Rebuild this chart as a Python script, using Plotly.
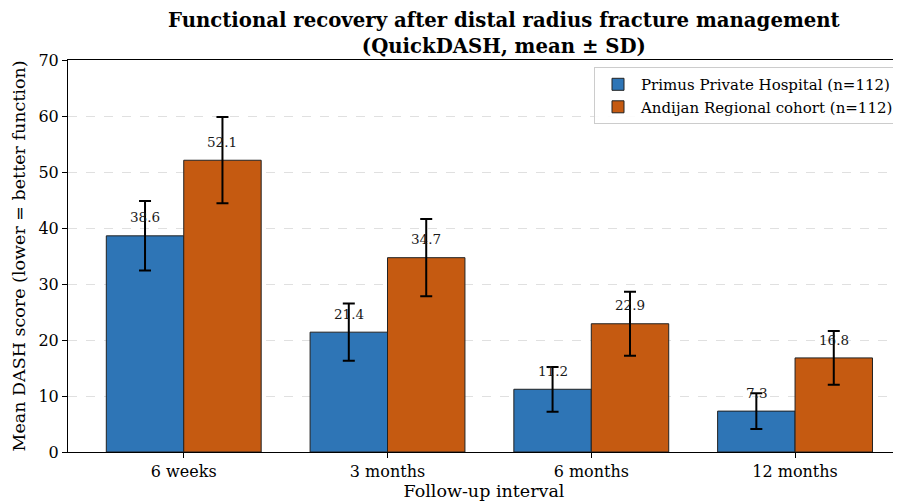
import plotly.graph_objects as go

categories = ["6 weeks", "3 months", "6 months", "12 months"]
primus_mean = [38.6, 21.4, 11.2, 7.3]
primus_sd = [6.2, 5.1, 4.0, 3.2]
andijan_mean = [52.1, 34.7, 22.9, 16.8]
andijan_sd = [7.7, 6.9, 5.7, 4.8]
series_names = ["Primus Private Hospital (n=112)", "Andijan Regional cohort (n=112)"]
y_ticks = [0, 10, 20, 30, 40, 50, 60, 70]

FONT = "DejaVu Serif"
BW = 0.38
idx = list(range(len(categories)))

fig = go.Figure()
for name, means, sds, color, off in [
    (series_names[0], primus_mean, primus_sd, "#2E75B6", -BW / 2),
    (series_names[1], andijan_mean, andijan_sd, "#C55A11", BW / 2),
]:
    xs = [i + off for i in idx]
    fig.add_trace(go.Bar(
        x=xs, y=means, width=BW, name=name,
        marker=dict(color=color, line=dict(color="#222222", width=1)),
        error_y=dict(type="data", array=sds, visible=True, color="black",
                     thickness=2, width=6),
    ))
    for x, m in zip(xs, means):
        fig.add_annotation(x=x, y=m + 1.5, text=f"{m:.1f}", showarrow=False,
                           yanchor="bottom", font=dict(family=FONT, size=13.5, color="#1a1a1a"))

fig.add_annotation(
    xref="paper", yref="paper", x=0.524, y=1, yanchor="bottom", yshift=0,
    showarrow=False, align="center",
    text="<b>Functional recovery after distal radius fracture management<br>(QuickDASH, mean ± SD)</b>",
    font=dict(family=FONT, size=19.7, color="black"),
)

fig.update_layout(
    width=893, height=493,
    margin=dict(l=60, r=1, t=52, b=49),
    plot_bgcolor="white", paper_bgcolor="white",
    font=dict(family=FONT, color="black"),
    showlegend=True,
    legend=dict(
        x=1.0, xanchor="right", y=0.982, yanchor="top",
        bgcolor="rgba(255,255,255,0.9)", bordercolor="#cccccc", borderwidth=1,
        font=dict(family=FONT, size=15, color="black"),
        traceorder="normal", itemwidth=36,
    ),
    xaxis=dict(
        range=[-0.568, 3.515], tickmode="array", tickvals=idx, ticktext=categories,
        showline=True, linecolor="black", linewidth=1, mirror=True,
        ticks="outside", ticklen=5, tickcolor="black",
        tickfont=dict(family=FONT, size=16), showgrid=False, zeroline=False,
        title=dict(text="Follow-up interval", font=dict(family=FONT, size=17.5), standoff=6),
    ),
    yaxis=dict(
        range=[0, 70], tickvals=y_ticks,
        showline=True, linecolor="black", linewidth=1, mirror=False,
        ticks="outside", ticklen=5, tickcolor="black",
        tickfont=dict(family=FONT, size=16),
        showgrid=True, gridcolor="#e0e0e0", griddash="dash", gridwidth=1, zeroline=False,
        title=dict(text="Mean DASH score (lower = better function)", font=dict(family=FONT, size=17.5), standoff=8),
    ),
)

fig.write_html("out.html")
